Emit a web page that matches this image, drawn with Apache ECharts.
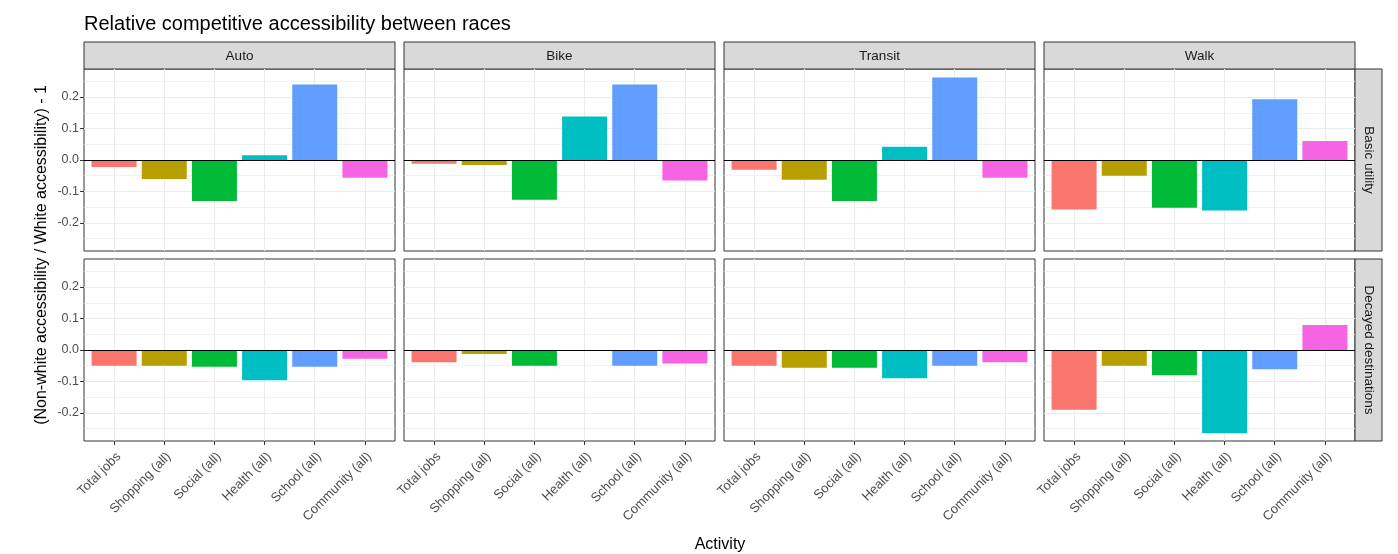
<!DOCTYPE html>
<html>
<head>
<meta charset="utf-8">
<script src="https://cdn.jsdelivr.net/npm/echarts@6/dist/echarts.min.js"></script>
<style>
  html, body { margin: 0; padding: 0; background: #fff; }
  #chart { width: 1398px; height: 554px; }
</style>
</head>
<body>
<div id="chart"></div>
<script>
// facets
const modes = ['Auto', 'Bike', 'Transit', 'Walk'];
const measures = ['Basic utility', 'Decayed destinations'];
const categories = ['Total jobs', 'Shopping (all)', 'Social (all)', 'Health (all)', 'School (all)', 'Community (all)'];
const yTicks = [-0.2, -0.1, 0.0, 0.1, 0.2];
const yMinorTicks = [-0.25, -0.15, -0.05, 0.05, 0.15, 0.25];

// (non-white / white accessibility) - 1, one array per panel
const basicAuto    = [-0.022, -0.060, -0.130,  0.015, 0.240, -0.056];
const basicBike    = [-0.012, -0.016, -0.126,  0.138, 0.240, -0.065];
const basicTransit = [-0.031, -0.063, -0.130,  0.042, 0.262, -0.056];
const basicWalk    = [-0.157, -0.050, -0.152, -0.160, 0.193,  0.060];
const decayAuto    = [-0.050, -0.050, -0.053, -0.096, -0.053, -0.028];
const decayBike    = [-0.039, -0.013, -0.050,  null,  -0.050, -0.043];
const decayTransit = [-0.050, -0.056, -0.056, -0.090, -0.050, -0.039];
const decayWalk    = [-0.190, -0.050, -0.080, -0.264, -0.061,  0.079];

const panelData = [
  [basicAuto, basicBike, basicTransit, basicWalk],
  [decayAuto, decayBike, decayTransit, decayWalk]
];

// ggplot default hue palette
const colors = ['#F8766D', '#B79F00', '#00BA38', '#00BFC4', '#619CFF', '#F564E3'];

const chart = echarts.init(document.getElementById('chart'), null, { renderer: 'canvas' });

const FONT = 'Liberation Sans, Arial, sans-serif';
const colLeft = [84, 404, 724, 1044];
const panelW = 311;
const rowTop = [69, 259];
const panelH = 182;
const catPos = categories.map((c, i) => i + 1);

const grids = [], xAxes = [], yAxes = [], series = [], graphics = [];

measures.forEach((m, r) => {
  modes.forEach((mode, c) => {
    const k = r * 4 + c;
    grids.push({
      left: colLeft[c], top: rowTop[r], width: panelW, height: panelH,
      show: true, borderColor: '#333333', borderWidth: 1, backgroundColor: '#fff'
    });
    xAxes.push({
      type: 'value', gridIndex: k, min: 0.4, max: 6.6,
      axisLine: { show: false, onZero: false },
      axisTick: { show: r === 1, length: 4, customValues: catPos, lineStyle: { color: '#333333' } },
      axisLabel: {
        show: r === 1, rotate: 45, margin: 9, customValues: catPos,
        align: 'right', verticalAlign: 'top',
        color: '#4D4D4D', fontSize: 13, fontFamily: FONT,
        formatter: v => categories[Math.round(v) - 1] || ''
      },
      splitLine: { show: true, lineStyle: { color: '#EBEBEB', width: 1.1 } }
    });
    // major grid + labels
    yAxes.push({
      type: 'value', gridIndex: k, min: -0.289, max: 0.289,
      axisLine: { show: false, onZero: false },
      axisTick: { show: c === 0, length: 4, customValues: yTicks, lineStyle: { color: '#333333' } },
      axisLabel: {
        show: c === 0, margin: 5, customValues: yTicks,
        color: '#4D4D4D', fontSize: 12.5, fontFamily: FONT,
        formatter: v => v.toFixed(1)
      },
      splitLine: { show: true, lineStyle: { color: '#EBEBEB', width: 1.1 } }
    });
    // minor grid lines
    yAxes.push({
      type: 'value', gridIndex: k, min: -0.289, max: 0.289, position: 'left',
      axisLine: { show: false, onZero: false },
      axisTick: { show: false, customValues: yMinorTicks },
      axisLabel: { show: false },
      splitLine: { show: true, lineStyle: { color: '#EDEDED', width: 0.7 } }
    });
    series.push({
      type: 'bar', xAxisIndex: k, yAxisIndex: 2 * k, barWidth: 45,
      data: panelData[r][c].map((v, i) => v === null ? null : { value: [i + 1, v], itemStyle: { color: colors[i] } })
        .filter(d => d !== null),
      animation: false, silent: true, z: 3,
      markLine: {
        silent: true, symbol: 'none', label: { show: false },
        lineStyle: { color: '#000', type: 'solid', width: 1 },
        data: [{ yAxis: 0 }]
      }
    });
  });
});

// top strips
modes.forEach((mode, c) => {
  graphics.push({
    type: 'rect', shape: { x: colLeft[c], y: 42, width: panelW, height: 27 },
    style: { fill: '#D9D9D9', stroke: '#333333', lineWidth: 1 }
  });
  graphics.push({
    type: 'text', x: colLeft[c] + panelW / 2, y: 56,
    style: { text: mode, fill: '#1A1A1A', font: '13.5px ' + FONT, textAlign: 'center', textVerticalAlign: 'middle' }
  });
});
// right strips
measures.forEach((m, r) => {
  graphics.push({
    type: 'rect', shape: { x: 1355, y: rowTop[r], width: 27, height: panelH },
    style: { fill: '#D9D9D9', stroke: '#333333', lineWidth: 1 }
  });
  graphics.push({
    type: 'text', x: 1369, y: rowTop[r] + panelH / 2, rotation: -Math.PI / 2,
    style: { text: m, fill: '#1A1A1A', font: '13.5px ' + FONT, textAlign: 'center', textVerticalAlign: 'middle' }
  });
});
// axis titles
graphics.push({
  type: 'text', x: 42, y: 255, rotation: Math.PI / 2,
  style: { text: '(Non-white accessibility / White accessibility) - 1', fill: '#000', font: '16px ' + FONT, textAlign: 'center', textVerticalAlign: 'middle' }
});
graphics.push({
  type: 'text', x: 720, y: 545,
  style: { text: 'Activity', fill: '#000', font: '16px ' + FONT, textAlign: 'center', textVerticalAlign: 'middle' }
});

chart.setOption({
  animation: false,
  title: {
    text: 'Relative competitive accessibility between races', left: 79, top: 9,
    textStyle: { color: '#000', fontSize: 20, fontWeight: 'normal', fontFamily: FONT }
  },
  grid: grids,
  xAxis: xAxes,
  yAxis: yAxes,
  series: series,
  graphic: graphics
});
</script>
</body>
</html>
